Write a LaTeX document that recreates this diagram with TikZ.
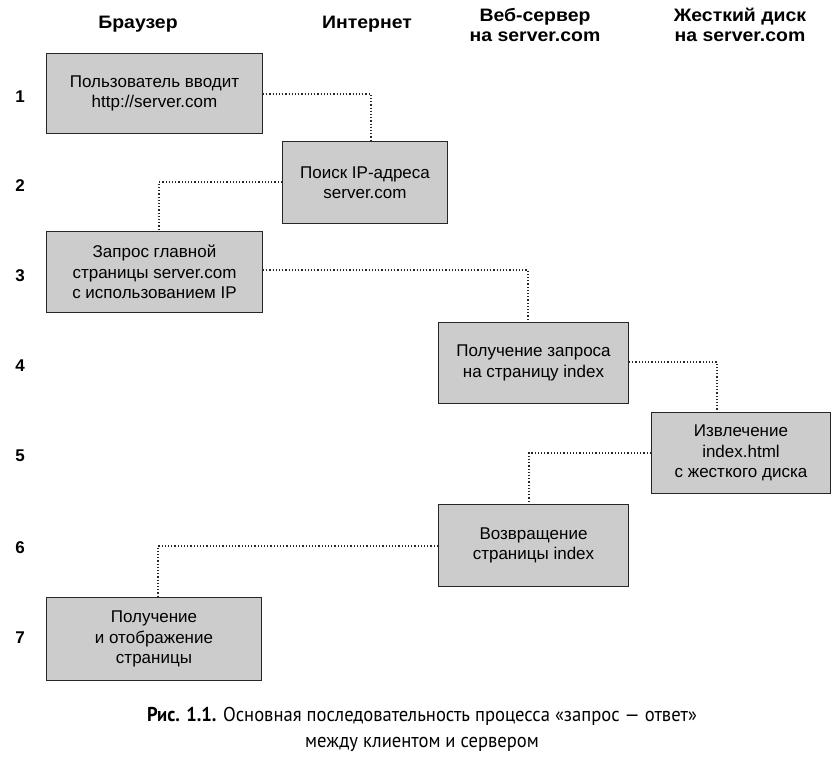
\documentclass[tikz,border=0pt]{standalone}
\usepackage{fontspec}
\setmainfont{Liberation Sans}
\newfontfamily\capfont[FakeStretch=0.93]{PT Sans}
\newfontfamily\headfont[FakeStretch=1.08]{Liberation Sans}
\begin{document}
\begin{tikzpicture}[x=1pt,y=-1pt,
  box/.style={draw=black!85,line width=1pt,fill=black!20,anchor=north west,inner sep=0pt,
    align=center,font=\fontsize{17}{20.5}\selectfont,text=black},
  head/.style={font=\headfont\bfseries\fontsize{18}{20}\selectfont,align=center,text=black},
  num/.style={font=\bfseries\fontsize{17}{20}\selectfont,text=black},
  link/.style={dotted,line width=1.2pt,black!85}]
\useasboundingbox (0,0) rectangle (837,762);
% headers
\node[head] (h1) at (138,24) {Браузер};
\node[head] (h2) at (367,24) {Интернет};
\node[head] (h3) at (535,25) {Веб-сервер\\на server.com};
\node[head] (h4) at (740,25) {Жесткий диск\\на server.com};
% row numbers
\node[num] (n1) at (20,97) {1};
\node[num] (n2) at (20,186) {2};
\node[num] (n3) at (20,276) {3};
\node[num] (n4) at (20,366) {4};
\node[num] (n5) at (20,456) {5};
\node[num] (n6) at (20,548) {6};
\node[num] (n7) at (20,638) {7};
% boxes
\node[box,minimum width=216pt,minimum height=80pt] (b1) at (46,53) {Пользователь вводит\\http://server.com};
\node[box,minimum width=165pt,minimum height=82pt] (b2) at (282,141) {Поиск IP-адреса\\server.com};
\node[box,minimum width=216pt,minimum height=81pt] (b3) at (46,231) {Запрос главной\\страницы server.com\\с использованием IP};
\node[box,minimum width=190pt,minimum height=81pt] (b4) at (438,322) {Получение запроса\\на страницу index};
\node[box,minimum width=179pt,minimum height=81pt] (b5) at (651,412) {Извлечение\\index.html\\с жесткого диска};
\node[box,minimum width=190pt,minimum height=82pt] (b6) at (438,504) {Возвращение\\страницы index};
\node[box,minimum width=215pt,minimum height=83pt] (b7) at (46,597) {Получение\\и отображение\\страницы};
% connectors
\draw[link] (b1.east |- 0,94) -| (b2.north -| 371,0);
\draw[link] (b2.west |- 0,182) -| (b3.north -| 159,0);
\draw[link] (b3.east |- 0,270) -| (b4.north -| 528,0);
\draw[link] (b4.east |- 0,362) -| (b5.north -| 717,0);
\draw[link] (b5.west |- 0,453) -| (b6.north -| 529,0);
\draw[link] (b6.west |- 0,546) -| (b7.north -| 158,0);
% caption
\node[font=\capfont\fontsize{20}{26}\selectfont,align=center,text=black] (cap) at (422,729)
  {{\bfseries Рис. 1.1.} Основная последовательность процесса «запрос — ответ»\\между клиентом и сервером};
\end{tikzpicture}
\end{document}
